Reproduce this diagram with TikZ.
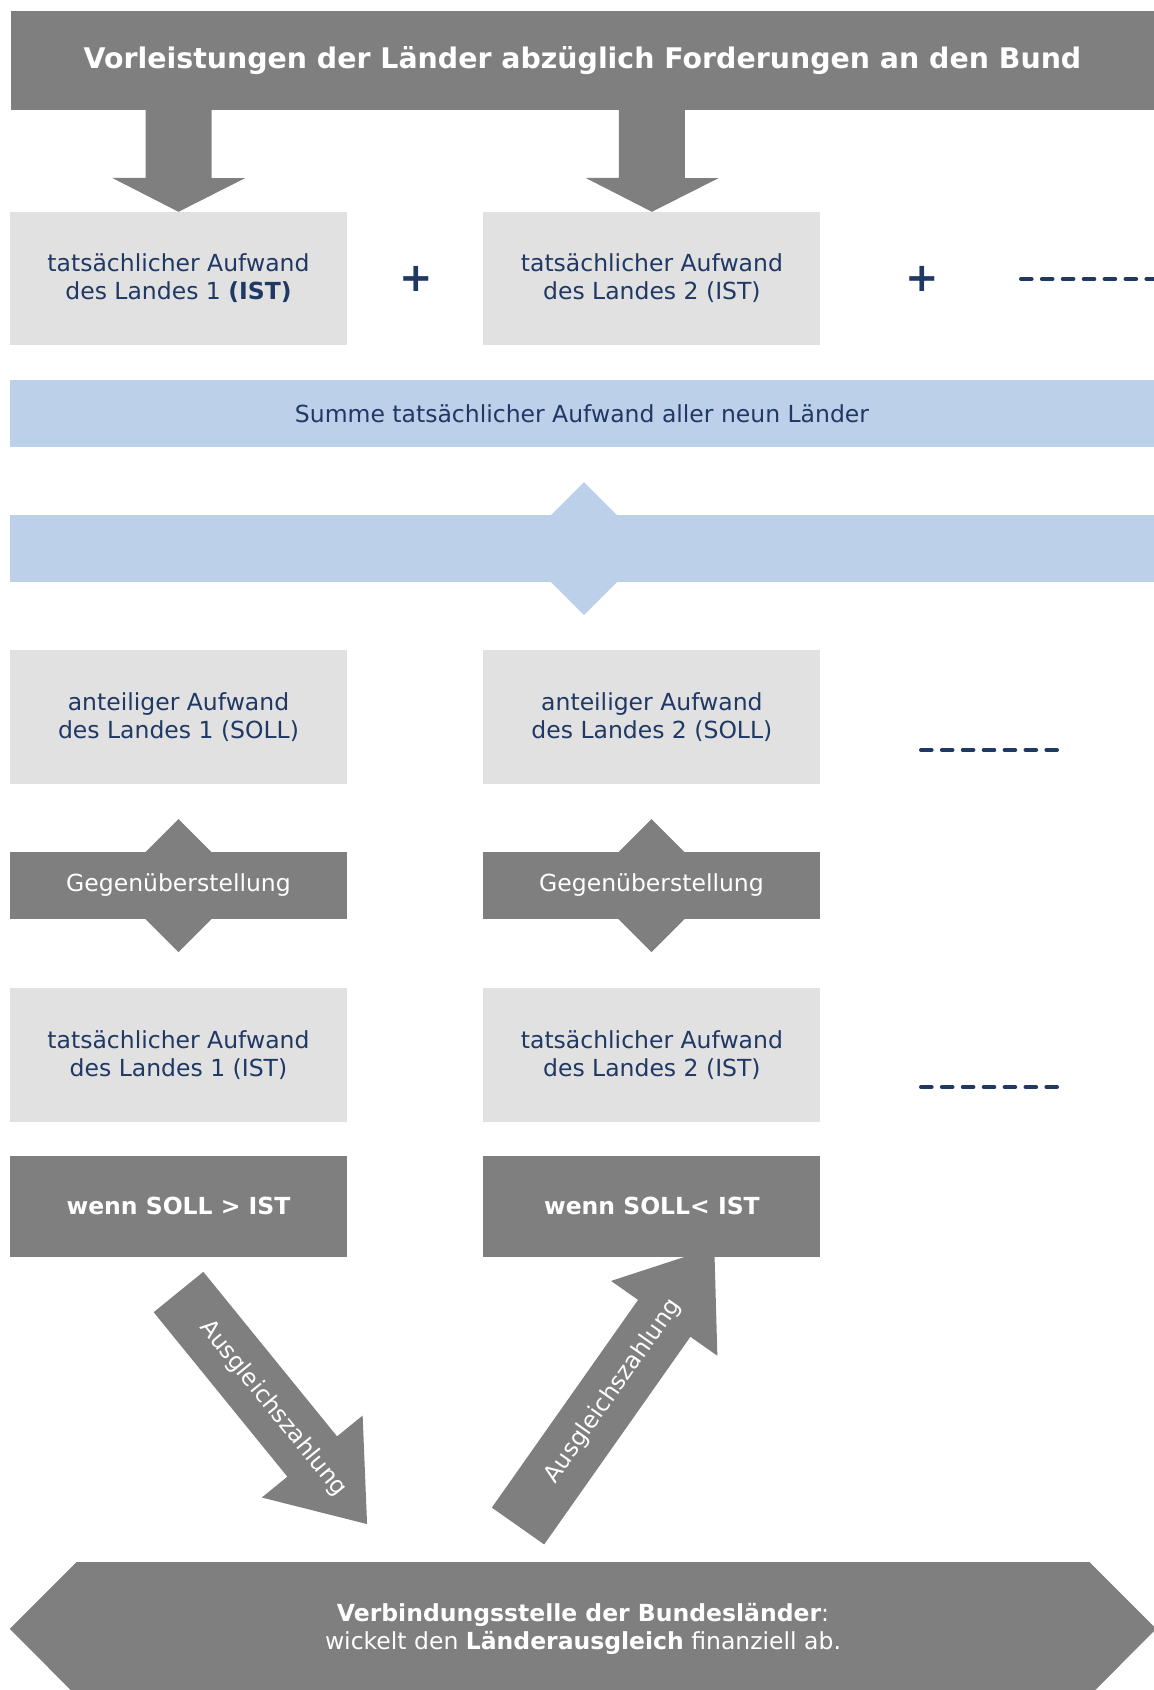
\documentclass[tikz,border=0pt]{standalone}
\usepackage{fontspec}
\setmainfont{DejaVu Sans}
\usetikzlibrary{positioning,calc}
\definecolor{flowgray}{HTML}{7F7F7F}
\definecolor{boxgray}{HTML}{E1E1E1}
\definecolor{bandblue}{HTML}{BDD0E9}
\definecolor{navytext}{HTML}{1F3864}
\newcommand{\LaenderFont}{\fontsize{23.5}{28}\selectfont}
\newcommand{\LaenderGap}{136pt}

\tikzset{
  landbox/.style={rectangle, fill=boxgray, text=navytext, font=\LaenderFont, align=center,
    minimum width=337pt, minimum height=134pt, inner sep=0pt},
  darkbox/.style={rectangle, fill=flowgray, text=white, font=\LaenderFont, align=center,
    minimum width=337pt, inner sep=0pt},
  blueband/.style={rectangle, fill=bandblue, text=navytext, font=\LaenderFont,
    minimum width=1144pt, minimum height=67pt, inner sep=0pt},
  morelaender/.style={navytext, line width=4pt, line cap=round, dash pattern=on 10.6pt off 10.3pt},
  plussign/.style={text=navytext, font=\fontsize{40}{40}\selectfont\bfseries, inner sep=0pt},
  pfeiltext/.style={text=white, font=\LaenderFont, inner sep=0pt},
}

\begin{document}
\begin{tikzpicture}[x=1pt, y=-1pt]
  \clip (0,0) rectangle (1154,1690);

  % Kopfzeile
  \node[darkbox, minimum width=1143pt, minimum height=99pt,
    font=\fontsize{28.4}{33}\selectfont\bfseries] (title) at (582.5,60.5)
    {Vorleistungen der Länder abzüglich Forderungen an den Bund};

  % IST je Land
  \node[landbox, minimum height=133pt] (ist1) at (178.5,278.5) {tatsächlicher Aufwand\\des Landes 1 \textbf{(IST)}};
  \node[landbox, minimum height=133pt, right=\LaenderGap of ist1] (ist2) {tatsächlicher Aufwand\\des Landes 2 (IST)};
  \node[plussign] (plus1) at (416,279) {+};
  \node[plussign] (plus2) at (922,279) {+};
  \coordinate (more1) at (1021,279);
  \draw[morelaender] (more1) -- ++(150,0);

  % Pfeile von der Kopfzeile
  \foreach \b in {ist1,ist2}
    \fill[flowgray] (\b.north |- title.south) ++(-33,0) -- ++(66,0) -- ++(0,68) -- ++(33.5,0)
      -- (\b.north) -- ++(-66.5,-34) -- ++(33.5,0) -- cycle;

  % Summe und Verteilung
  \node[blueband] (summe) at (582,413.5) {Summe tatsächlicher Aufwand aller neun Länder};
  \node[blueband] (verteil) at (582,548.5) {};
  \coordinate (verteilmitte) at (584,548.5);
  \fill[bandblue] (verteilmitte) ++(0,-66.5) -- ++(66.5,66.5) -- ++(-66.5,66.5) -- ++(-66.5,-66.5) -- cycle;

  % SOLL je Land
  \node[landbox] (soll1) at (178.5,717) {anteiliger Aufwand\\des Landes 1 (SOLL)};
  \node[landbox, right=\LaenderGap of soll1] (soll2) {anteiliger Aufwand\\des Landes 2 (SOLL)};
  \coordinate (more2) at (921,750);
  \draw[morelaender] (more2) -- ++(136,0);

  % Gegenueberstellung
  \coordinate (gm1) at (178.5,885.5);
  \coordinate (gm2) at (651.5,885.5);
  \foreach \g in {gm1,gm2}
    \fill[flowgray] (\g) ++(0,-66.5) -- ++(66.5,66.5) -- ++(-66.5,66.5) -- ++(-66.5,-66.5) -- cycle;
  \node[darkbox, minimum height=67pt] (gegen1) at (gm1) {Gegenüberstellung};
  \node[darkbox, minimum height=67pt] (gegen2) at (gm2) {Gegenüberstellung};

  % IST je Land (Vergleich)
  \node[landbox] (istb1) at (178.5,1055) {tatsächlicher Aufwand\\des Landes 1 (IST)};
  \node[landbox, right=\LaenderGap of istb1] (istb2) {tatsächlicher Aufwand\\des Landes 2 (IST)};
  \coordinate (more3) at (921,1087);
  \draw[morelaender] (more3) -- ++(136,0);

  % Ausgleichszahlungen
  \begin{scope}[shift={(178.5,1292)}, rotate=-50.9]
    \fill[flowgray] (0,-32) -- (212,-32) -- (212,-65) -- (299,0) -- (212,65) -- (212,32) -- (0,32) -- cycle;
    \node[pfeiltext, rotate=-50.9] (zahlung1) at (150,0) {Ausgleichszahlung};
  \end{scope}
  \begin{scope}[shift={(518,1526)}, rotate=54.85]
    \fill[flowgray] (0,-32) -- (254,-32) -- (254,-65) -- (341,0) -- (254,65) -- (254,32) -- (0,32) -- cycle;
    \node[pfeiltext, rotate=54.85] (zahlung2) at (165,0) {Ausgleichszahlung};
  \end{scope}

  \node[darkbox, minimum height=101pt, font=\LaenderFont\bfseries] (wenn1) at (178.5,1206) {wenn SOLL > IST};
  \node[darkbox, minimum height=101pt, font=\LaenderFont\bfseries, right=\LaenderGap of wenn1] (wenn2) {wenn SOLL< IST};

  % Verbindungsstelle
  \node[rectangle, fill=flowgray, minimum width=1012pt, minimum height=134pt, inner sep=0pt,
    text=white, font=\LaenderFont, align=center] (vbst) at (583,1629)
    {\textbf{Verbindungsstelle der Bundesländer}:\\wickelt den \textbf{Länderausgleich} finanziell ab.};
  \fill[flowgray] (vbst.north east) -- ++(67,67) -- (vbst.south east) -- cycle
    (vbst.north west) -- ++(-67,67) -- (vbst.south west) -- cycle;
\end{tikzpicture}
\end{document}
